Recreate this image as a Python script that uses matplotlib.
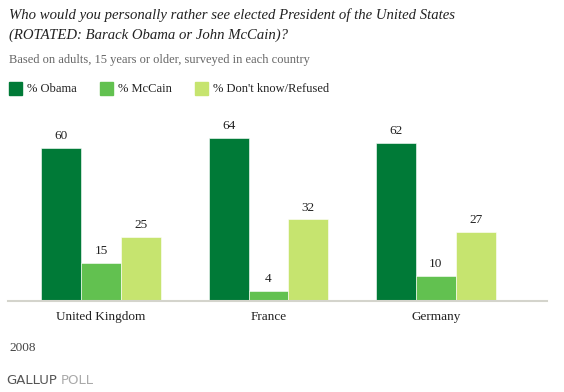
import matplotlib.pyplot as plt
import numpy as np
from matplotlib.patches import Rectangle

countries = ["United Kingdom", "France", "Germany"]
series = ["% Obama", "% McCain", "% Don't know/Refused"]
obama = [60, 64, 62]
mccain = [15, 4, 10]
dont_know = [25, 32, 27]
colors = ["#007a37", "#62c150", "#c6e46f"]

W, H = 564, 392
fig = plt.figure(figsize=(W / 100, H / 100), dpi=100)
serif = ["Liberation Serif", "DejaVu Serif"]

# axes: baseline at y=301px, spans x 8..547px
ax = fig.add_axes([8 / W, (H - 301) / H, 539 / W, 178.5 / H])
x = np.arange(len(countries))
w = 0.238
for i, (vals, c) in enumerate(zip([obama, mccain, dont_know], colors)):
    bars = ax.bar(x + (i - 1) * w, vals, w, color=c, edgecolor="white", linewidth=0.4)
    for b, v in zip(bars, vals):
        ax.text(b.get_x() + b.get_width() / 2, v + 2.3, str(v), ha="center", va="bottom",
                fontsize=9.5, family=serif, color="#222222")

ax.set_xlim(-0.555, 2.663)
ax.set_ylim(0, 70)
ax.set_yticks([])
ax.set_xticks(x)
ax.set_xticklabels(countries, family=serif, fontsize=9.5, color="#222222")
ax.tick_params(axis="x", length=0, pad=7)
for s in ["top", "right", "left"]:
    ax.spines[s].set_visible(False)
ax.spines["bottom"].set_color("#d4d4cc")
ax.spines["bottom"].set_linewidth(1.5)

# title block
fig.text(9 / W, 1 - 15 / H, "Who would you personally rather see elected President of the United States",
         family=serif, style="italic", fontsize=10.6, va="center", color="#222222")
fig.text(9 / W, 1 - 35 / H, "(ROTATED: Barack Obama or John McCain)?",
         family=serif, style="italic", fontsize=10.6, va="center", color="#222222")
fig.text(9 / W, 1 - 60 / H, "Based on adults, 15 years or older, surveyed in each country",
         family=serif, fontsize=9, va="center", color="#666666")

# legend
leg_x = [9, 100, 195]
for lx, lab, c in zip(leg_x, series, colors):
    fig.patches.append(Rectangle((lx / W, 1 - 95 / H), 13 / W, 13 / H, color=c,
                                 transform=fig.transFigure, figure=fig))
    fig.text((lx + 18) / W, 1 - 88.5 / H, lab, family=serif, fontsize=9,
             va="center", color="#222222")

fig.text(9 / W, 1 - 348 / H, "2008", family=serif, fontsize=9.5, va="center", color="#444444")
fig.text(6 / W, 1 - 381 / H, "GALLUP", family=["Liberation Sans Narrow", "DejaVu Sans"],
         fontsize=9.5, va="center", color="#555555")
fig.text(61 / W, 1 - 381 / H, "POLL", family=["Liberation Sans Narrow", "DejaVu Sans"],
         fontsize=9.5, va="center", color="#aaaaaa")

fig.savefig("out.png", dpi=100)
